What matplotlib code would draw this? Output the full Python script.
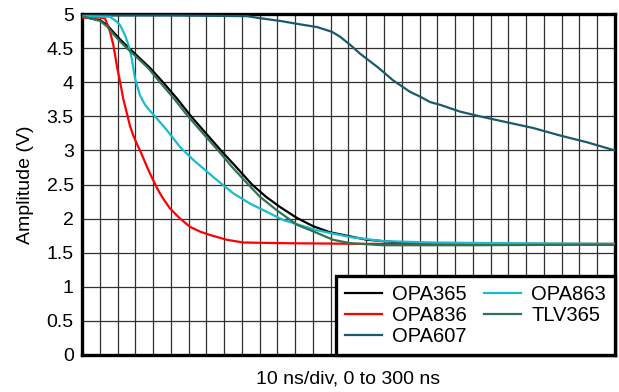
import numpy as np
import matplotlib
matplotlib.use('Agg')
import matplotlib.pyplot as plt

plt.rcParams['font.family'] = ['Liberation Sans', 'DejaVu Sans']

# time (ns) and amplitude (V) read from the scope shot
t_opa365 = [0, 0.6, 10.1, 14.1, 17.5, 21.4, 26.5, 32.6, 38.3, 45.6, 53.5, 61.4, 69.8, 78.2, 86.7, 95.7, 103.6, 111.5, 121, 130, 139.6, 150.9, 160.4, 179, 196, 300]
v_opa365 = [4.97, 4.96, 4.91, 4.84, 4.74, 4.63, 4.50, 4.35, 4.21, 4.00, 3.76, 3.50, 3.25, 3.00, 2.76, 2.50, 2.32, 2.17, 2.01, 1.89, 1.80, 1.74, 1.69, 1.65, 1.63, 1.62]

t_opa836 = [0, 10, 12.9, 15.8, 17.6, 18.6, 19.9, 21.4, 23.2, 25.2, 27, 29, 31, 33.5, 36.4, 38.3, 42, 43.9, 45.8, 49.5, 55.2, 60.8, 66.4, 72.1, 81.5, 90.8, 113.1, 160, 220, 300]
v_opa836 = [4.95, 4.95, 4.94, 4.74, 4.55, 4.40, 4.20, 4.01, 3.76, 3.55, 3.36, 3.21, 3.09, 2.95, 2.77, 2.66, 2.46, 2.37, 2.29, 2.15, 2.00, 1.88, 1.81, 1.76, 1.69, 1.65, 1.64, 1.63, 1.63, 1.63]

t_opa607 = [0, 50, 92.9, 100.2, 111.5, 122.7, 132.3, 140.7, 145.2, 150.9, 156.5, 161, 166, 170.6, 175, 179, 184.6, 190.3, 195.9, 201.5, 212.8, 224, 239.8, 253.9, 269, 284.3, 300]
v_opa607 = [4.98, 4.98, 4.97, 4.94, 4.90, 4.85, 4.81, 4.74, 4.67, 4.55, 4.42, 4.33, 4.23, 4.13, 4.03, 3.96, 3.86, 3.79, 3.71, 3.67, 3.57, 3.50, 3.41, 3.33, 3.22, 3.12, 3.00]

t_opa863 = [0, 15.8, 19.5, 21.4, 24.2, 26.1, 28, 29.8, 32.6, 35.5, 38.3, 41.1, 47.7, 55.2, 62.7, 73.9, 79.5, 85.2, 94.6, 113.3, 132.1, 150.9, 169.4, 197.6, 235.3, 300]
v_opa863 = [4.97, 4.96, 4.89, 4.84, 4.69, 4.55, 4.35, 4.06, 3.81, 3.67, 3.58, 3.50, 3.30, 3.05, 2.86, 2.61, 2.49, 2.37, 2.22, 1.98, 1.83, 1.73, 1.67, 1.65, 1.64, 1.63]

t_tlv365 = [0, 10.1, 14.1, 17.5, 21.4, 25.3, 31.5, 37.2, 43.9, 51.8, 59.7, 68.1, 76.6, 84.4, 92.9, 100.2, 109.8, 121, 132.3, 141.3, 150.9, 169.4, 220, 300]
v_tlv365 = [4.97, 4.90, 4.82, 4.71, 4.60, 4.50, 4.35, 4.21, 4.00, 3.76, 3.50, 3.25, 3.00, 2.76, 2.52, 2.32, 2.12, 1.91, 1.79, 1.69, 1.64, 1.61, 1.61, 1.62]

yticks = [0, 0.5, 1, 1.5, 2, 2.5, 3, 3.5, 4, 4.5, 5]
ytick_labels = ['0', '0.5', '1', '1.5', '2', '2.5', '3', '3.5', '4', '4.5', '5']

fig = plt.figure(figsize=(6.19, 3.92), dpi=100)
ax = fig.add_axes([0.1325, 0.0944, 0.861, 0.8696])

lw = 1.6
ax.plot(t_opa365, v_opa365, color='black', lw=lw, label='OPA365', zorder=3)
ax.plot(t_opa836, v_opa836, color='#ff0000', lw=lw, label='OPA836', zorder=3)
ax.plot(t_opa607, v_opa607, color='#1b5a6b', lw=lw, label='OPA607', zorder=3)
ax.plot(t_opa863, v_opa863, color='#19bccf', lw=lw, label='OPA863', zorder=3)
ax.plot(t_tlv365, v_tlv365, color='#2e7353', lw=lw, label='TLV365', zorder=3)

ax.set_xlim(0, 300)
ax.set_ylim(0, 5)
ax.set_xticks(np.arange(0, 301, 10))
ax.set_xticklabels([])
ax.set_yticks(yticks)
ax.set_yticklabels(ytick_labels)
ax.tick_params(length=0, labelsize=14, pad=6)
ax.grid(True, color='#303030', lw=0.9)
ax.set_axisbelow(True)

for s in ax.spines.values():
    s.set_linewidth(2.4)
    s.set_color('black')

ax.set_xlabel('10 ns/div, 0 to 300 ns', fontsize=14, labelpad=5)
ax.set_ylabel('Amplitude (V)', fontsize=14, labelpad=9)

leg = ax.legend(loc='lower right', ncol=2, fontsize=14.5, frameon=True, fancybox=False,
                borderaxespad=0, handlelength=1.85, handletextpad=0.5,
                columnspacing=0.85, labelspacing=0.1, borderpad=0.45)
leg.get_frame().set_edgecolor('black')
leg.get_frame().set_linewidth(2.4)
leg.get_frame().set_alpha(1)

fig.savefig('out.png', dpi=100)
